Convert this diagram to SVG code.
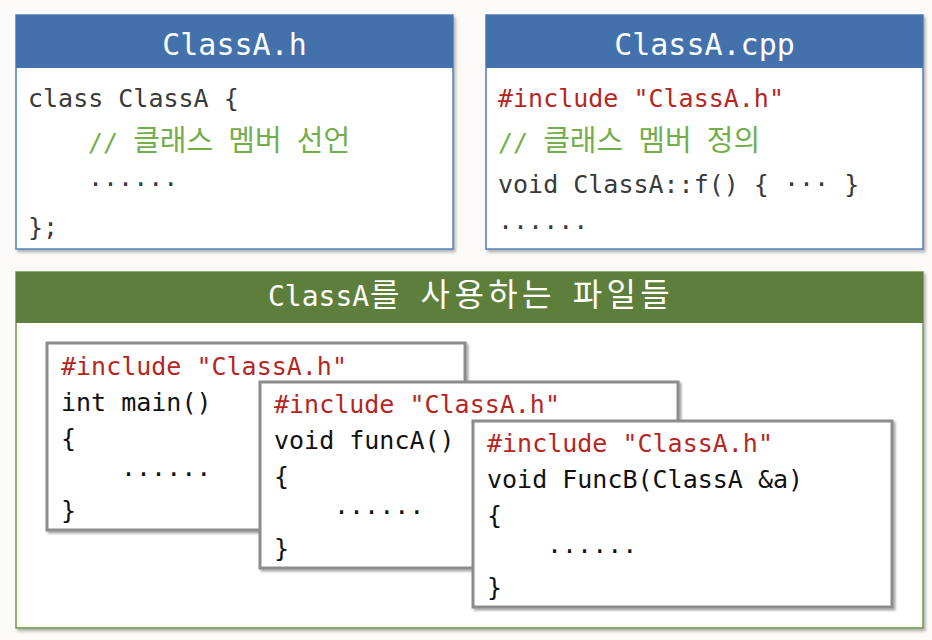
<svg xmlns="http://www.w3.org/2000/svg" width="932" height="640" viewBox="0 0 932 640">
  <defs>
    <filter id="sh" x="-5%" y="-5%" width="110%" height="115%">
      <feDropShadow dx="2" dy="2.5" stdDeviation="1.5" flood-color="#000" flood-opacity="0.3"/>
    </filter>
    <filter id="sh2" x="-5%" y="-5%" width="110%" height="115%">
      <feDropShadow dx="2" dy="2" stdDeviation="1.2" flood-color="#000" flood-opacity="0.35"/>
    </filter>
  </defs>
  <style>
    .mono { font-family: "DejaVu Sans Mono", "Noto Sans CJK KR", monospace; }
    .ko { font-family: "Noto Sans CJK KR", sans-serif; }
    .kc { font-size: 29px; }
    .title { font-size: 30px; fill: #ffffff; text-anchor: middle; }
    .code { font-size: 25px; fill: #3a3a3a; }
    .code2 { font-size: 25px; fill: #111111; }
    .red { fill: #b5261f; }
    .cmt { fill: #74ad4c; }
    .bbox { fill: #ffffff; stroke: #4f7fbb; stroke-width: 1.5; }
    .bhead { fill: #4371ac; }
    .gbox { fill: #ffffff; stroke: #6b9a43; stroke-width: 1.5; }
    .ghead { fill: #5e7f3b; }
    .cbox { fill: #ffffff; stroke: #8c8c8c; stroke-width: 3; }
  </style>
  <rect x="0" y="0" width="932" height="640" fill="#fcfbf9"/>

  <g id="classA_h">
    <rect class="bbox" x="16" y="15" width="437" height="234" filter="url(#sh)"/>
    <rect class="bhead" x="16" y="15" width="437" height="53"/>
    <text class="mono title" x="234.5" y="55">ClassA.h</text>
    <text class="mono code" x="28" y="107">class ClassA {</text>
    <text class="mono code cmt" x="88" y="151">// <tspan class="ko kc">클래스</tspan> <tspan class="ko kc">멤버</tspan> <tspan class="ko kc">선언</tspan></text>
    <text class="mono code" x="88" y="193">······</text>
    <text class="mono code" x="28" y="236">};</text>
  </g>

  <g id="classA_cpp">
    <rect class="bbox" x="486" y="15" width="437" height="234" filter="url(#sh)"/>
    <rect class="bhead" x="486" y="15" width="437" height="53"/>
    <text class="mono title" x="704.5" y="55">ClassA.cpp</text>
    <text class="mono code red" x="498" y="107">#include "ClassA.h"</text>
    <text class="mono code cmt" x="498" y="151">// <tspan class="ko kc">클래스</tspan> <tspan class="ko kc">멤버</tspan> <tspan class="ko kc">정의</tspan></text>
    <text class="mono code" x="498" y="193">void ClassA::f() { ··· }</text>
    <text class="mono code" x="498" y="236">······</text>
  </g>

  <g id="users">
    <rect class="gbox" x="16" y="272" width="907" height="356" filter="url(#sh)"/>
    <rect class="ghead" x="16" y="272" width="907" height="51"/>
    <text class="mono" font-size="28" fill="#ffffff" y="306"><tspan x="268">ClassA</tspan><tspan class="ko" font-size="32" x="369.9 404 420.6 454.4 488.2 522 556 572.7 606.5 640.3">를 사용하는 파일들</tspan></text>
  </g>

  <g id="main_file">
    <rect class="cbox" x="47" y="343" width="418" height="187" filter="url(#sh2)"/>
    <text class="mono code2 red" x="61" y="375">#include "ClassA.h"</text>
    <text class="mono code2" x="61" y="411">int main()</text>
    <text class="mono code2" x="61" y="447">{</text>
    <text class="mono code2" x="121" y="483">······</text>
    <text class="mono code2" x="61" y="519">}</text>
  </g>

  <g id="funcA_file">
    <rect class="cbox" x="260" y="382" width="418" height="186" filter="url(#sh2)"/>
    <text class="mono code2 red" x="274" y="413">#include "ClassA.h"</text>
    <text class="mono code2" x="274" y="449">void funcA()</text>
    <text class="mono code2" x="274" y="485">{</text>
    <text class="mono code2" x="334" y="521">······</text>
    <text class="mono code2" x="274" y="557">}</text>
  </g>

  <g id="funcB_file">
    <rect class="cbox" x="473" y="421" width="419" height="186" filter="url(#sh2)"/>
    <text class="mono code2 red" x="487" y="452">#include "ClassA.h"</text>
    <text class="mono code2" x="487" y="488">void FuncB(ClassA &amp;a)</text>
    <text class="mono code2" x="487" y="524">{</text>
    <text class="mono code2" x="547" y="560">······</text>
    <text class="mono code2" x="487" y="596">}</text>
  </g>

  <g id="connectors"/>
</svg>
